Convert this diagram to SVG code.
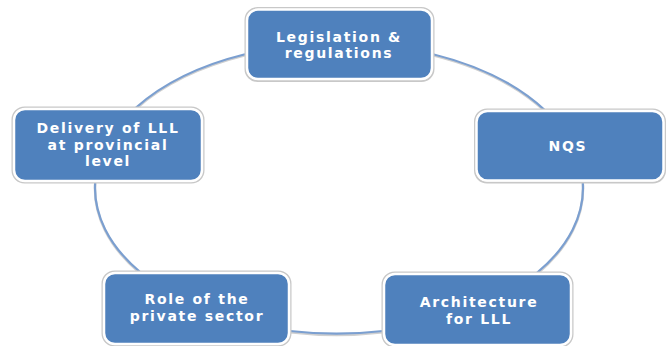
<svg xmlns="http://www.w3.org/2000/svg" width="672" height="346" viewBox="0 0 672 346">
  <style>
    .arc { fill: none; stroke: #7b9fd0; stroke-width: 2.2; }
    .arcsh { fill: none; stroke: #d0d0d0; stroke-width: 2.5; }
    .box { fill: #4f81bd; stroke: #ffffff; stroke-width: 2.5; }
    .boxsh { fill: none; stroke: #c8c8c8; stroke-width: 2; }
    .lbl { font-family: "DejaVu Sans", "Liberation Sans", sans-serif; font-size: 14px; font-weight: bold; fill: #ffffff; text-anchor: middle; letter-spacing: 1.7px; }
  </style>
  <rect width="672" height="346" fill="#ffffff"/>
  <g id="connectors">
    <g transform="translate(0,1.2)">
      <path class="arcsh" d="M245,54.2 A244,145 0 0,0 135.5,108"/>
      <path class="arcsh" d="M433,54.2 A244,145 0 0,1 544.7,110"/>
      <path class="arcsh" d="M582.8,182 A244,145 0 0,1 536.7,273"/>
      <path class="arcsh" d="M383,331 A244,145 0 0,1 290,331"/>
      <path class="arcsh" d="M140.1,272 A244,145 0 0,1 95.2,182"/>
    </g>
    <path class="arc" d="M245,54.2 A244,145 0 0,0 135.5,108"/>
    <path class="arc" d="M433,54.2 A244,145 0 0,1 544.7,110"/>
    <path class="arc" d="M582.8,182 A244,145 0 0,1 536.7,273"/>
    <path class="arc" d="M383,331 A244,145 0 0,1 290,331"/>
    <path class="arc" d="M140.1,272 A244,145 0 0,1 95.2,182"/>
  </g>
  <g id="legislation">
    <rect class="boxsh" x="245.5" y="8" width="188" height="73" rx="12"/>
    <rect class="box" x="247" y="9.5" width="185" height="69.5" rx="11"/>
    <text class="lbl" x="339" y="41.5">Legislation &amp;</text>
    <text class="lbl" x="339" y="58">regulations</text>
  </g>
  <g id="nqs">
    <rect class="boxsh" x="475" y="109.5" width="190" height="73" rx="12"/>
    <rect class="box" x="476.5" y="111" width="187" height="69.5" rx="11"/>
    <text class="lbl" x="568" y="150.5">NQS</text>
  </g>
  <g id="architecture">
    <rect class="boxsh" x="382.5" y="272.5" width="190" height="74" rx="12"/>
    <rect class="box" x="384" y="274" width="187" height="71" rx="11"/>
    <text class="lbl" x="479" y="307">Architecture</text>
    <text class="lbl" x="479" y="323.5">for LLL</text>
  </g>
  <g id="role">
    <rect class="boxsh" x="102.5" y="271.5" width="188" height="74" rx="12"/>
    <rect class="box" x="104" y="273" width="185" height="71" rx="11"/>
    <text class="lbl" x="197" y="304">Role of the</text>
    <text class="lbl" x="197" y="320.5">private sector</text>
  </g>
  <g id="delivery">
    <rect class="boxsh" x="12.5" y="107.5" width="191" height="75" rx="12"/>
    <rect class="box" x="14" y="109" width="188" height="72" rx="11"/>
    <text class="lbl" x="108" y="133">Delivery of LLL</text>
    <text class="lbl" x="108" y="149.5">at provincial</text>
    <text class="lbl" x="108" y="166">level</text>
  </g>
</svg>
